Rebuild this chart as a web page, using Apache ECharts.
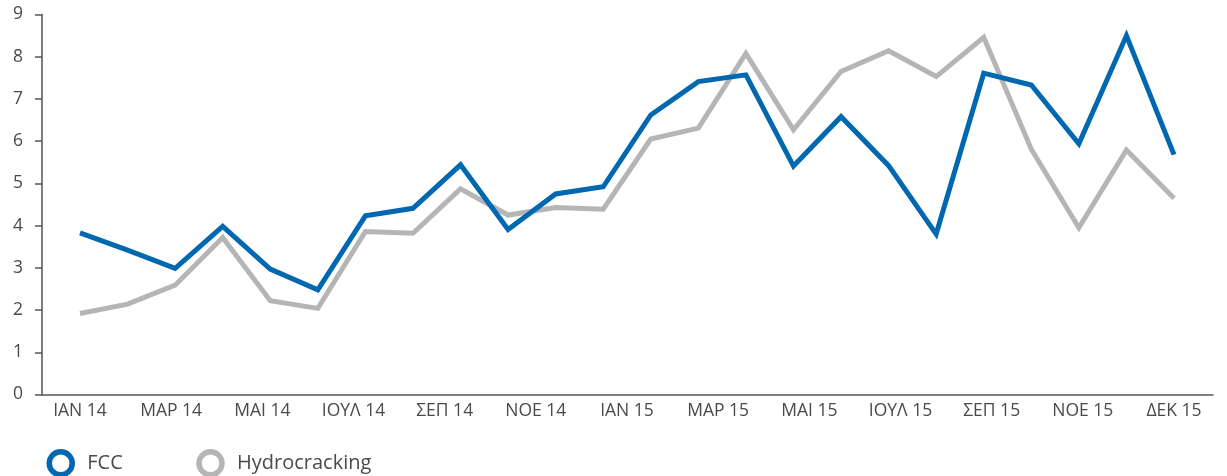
<!DOCTYPE html>
<html>
<head>
<meta charset="utf-8">
<script src="https://cdn.jsdelivr.net/npm/echarts@6/dist/echarts.min.js"></script>
<style>
  html, body { margin: 0; padding: 0; background: #fff; }
  #chart { width: 1227px; height: 476px; }
</style>
</head>
<body>
<div id="chart"></div>
<script>
// μήνες 2014-2015 (ένα σημείο ανά μήνα)
var months = ['ΙΑΝ 14', 'ΦΕΒ 14', 'ΜΑΡ 14', 'ΑΠΡ 14', 'ΜΑΙ 14', 'ΙΟΥΝ 14', 'ΙΟΥΛ 14', 'ΑΥΓ 14',
              'ΣΕΠ 14', 'ΟΚΤ 14', 'ΝΟΕ 14', 'ΔΕΚ 14', 'ΙΑΝ 15', 'ΦΕΒ 15', 'ΜΑΡ 15', 'ΑΠΡ 15',
              'ΜΑΙ 15', 'ΙΟΥΝ 15', 'ΙΟΥΛ 15', 'ΑΥΓ 15', 'ΣΕΠ 15', 'ΟΚΤ 15', 'ΝΟΕ 15', 'ΔΕΚ 15'];
// ετικέτες του άξονα x όπως φαίνονται
var tickLabels = ['ΙΑΝ 14', 'ΜΑΡ 14', 'ΜΑΙ 14', 'ΙΟΥΛ 14', 'ΣΕΠ 14', 'ΝΟΕ 14', 'ΙΑΝ 15',
                  'ΜΑΡ 15', 'ΜΑΙ 15', 'ΙΟΥΛ 15', 'ΣΕΠ 15', 'ΝΟΕ 15', 'ΔΕΚ 15'];
var fcc = [3.83, 3.42, 2.99, 3.98, 2.97, 2.48, 4.23, 4.41, 5.44, 3.91, 4.75, 4.92,
           6.62, 7.41, 7.57, 5.41, 6.58, 5.42, 3.8, 7.61, 7.33, 5.94, 8.5, 5.68];
var hydro = [1.92, 2.14, 2.59, 3.72, 2.22, 2.04, 3.86, 3.82, 4.87, 4.25, 4.43, 4.39,
             6.05, 6.31, 8.08, 6.27, 7.65, 8.14, 7.53, 8.46, 5.81, 3.95, 5.79, 4.65];

var FONT = 'Open Sans';
var TXT = '#4a4a4a';
var AXIS = '#555555';

var chart = echarts.init(document.getElementById('chart'));

chart.setOption({
    animation: false,
    textStyle: { fontFamily: FONT },
    grid: [
        // πλαίσιο αξόνων
        { left: 42, right: 14, top: 14.5, bottom: 81.5 },
        // περιοχή δεδομένων / ετικετών
        { left: 80, right: 53, top: 14.5, bottom: 81.5 }
    ],
    legend: {
        left: 41.5,
        top: 444,
        itemWidth: 23,
        itemHeight: 23,
        itemGap: 73.5,
        icon: 'circle',
        itemStyle: { color: '#ffffff', borderWidth: 5.5 },
        textStyle: { fontFamily: FONT, fontSize: 20, color: TXT, padding: [0, 0, 0, 10] },
        data: ['FCC', 'Hydrocracking']
    },
    xAxis: [
        {
            gridIndex: 0, type: 'value', min: 0, max: 1,
            axisLine: { show: true, lineStyle: { color: AXIS, width: 1.5 } },
            axisTick: { show: false }, axisLabel: { show: false }, splitLine: { show: false }
        },
        {
            gridIndex: 1, type: 'category', data: months, boundaryGap: false, show: false
        },
        {
            gridIndex: 1, type: 'category', data: tickLabels, boundaryGap: false, position: 'bottom',
            axisLine: { show: false }, axisTick: { show: false }, splitLine: { show: false },
            axisLabel: { interval: 0, margin: 8, fontFamily: FONT, fontSize: 17.5, color: TXT }
        }
    ],
    yAxis: [
        {
            gridIndex: 0, type: 'value', min: 0, max: 9, interval: 1,
            axisLine: { show: true, lineStyle: { color: AXIS, width: 1.5 } },
            axisTick: { show: true, length: 7, lineStyle: { color: AXIS, width: 1.5 } },
            axisLabel: { margin: 19, fontFamily: FONT, fontSize: 17.5, color: TXT },
            splitLine: { show: false }
        },
        {
            gridIndex: 1, type: 'value', min: 0, max: 9, show: false, splitLine: { show: false }
        }
    ],
    series: [
        {
            name: 'FCC', type: 'line', xAxisIndex: 1, yAxisIndex: 1,
            data: fcc, symbol: 'none', z: 3,
            lineStyle: { color: '#0068b1', width: 5, join: 'miter' },
            itemStyle: { color: '#ffffff', borderColor: '#0068b1', borderWidth: 5.5 }
        },
        {
            name: 'Hydrocracking', type: 'line', xAxisIndex: 1, yAxisIndex: 1,
            data: hydro, symbol: 'none', z: 2,
            lineStyle: { color: '#b5b5b5', width: 5, join: 'miter' },
            itemStyle: { color: '#ffffff', borderColor: '#b5b5b5', borderWidth: 5.5 }
        }
    ]
});
</script>
</body>
</html>
